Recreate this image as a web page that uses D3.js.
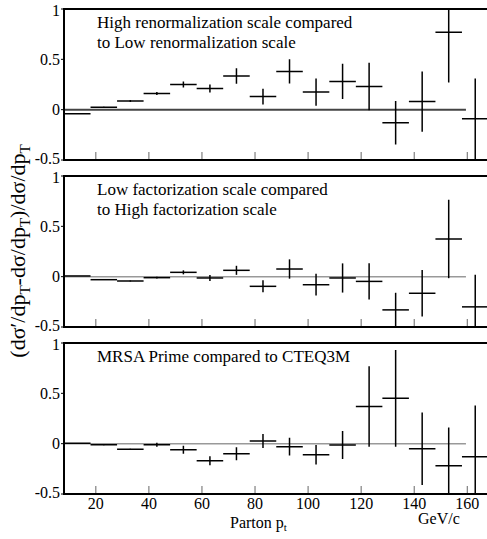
<!DOCTYPE html>
<html>
<head>
<meta charset="utf-8">
<script src="https://cdn.jsdelivr.net/npm/d3@7"></script>
<style>
  body { margin: 0; background: #fff; }
  svg { display: block; }
</style>
</head>
<body>
<svg id="chart" width="487" height="539"></svg>
<script>
// bin centres in GeV/c, each bin is 10 wide
const binCentres = [13, 23, 33, 43, 53, 63, 73, 83, 93, 103, 113, 123, 133, 143, 153, 163];
const binHalfWidth = 5;

// high vs low renormalization scale
const renormValues = [-0.04, 0.025, 0.085, 0.16, 0.25, 0.21, 0.335, 0.13, 0.38, 0.175, 0.28, 0.23, -0.13, 0.08, 0.77, -0.09];
const renormErrors = [0.0, 0.005, 0.01, 0.015, 0.03, 0.04, 0.077, 0.078, 0.12, 0.135, 0.175, 0.235, 0.215, 0.3, 0.5, 0.4];

// low vs high factorization scale
const factValues = [0.007, -0.03, -0.043, -0.01, 0.043, -0.013, 0.063, -0.096, 0.076, -0.08, -0.013, -0.047, -0.33, -0.165, 0.375, -0.3];
const factErrors = [0.0, 0.003, 0.005, 0.008, 0.02, 0.03, 0.045, 0.06, 0.096, 0.108, 0.145, 0.18, 0.17, 0.23, 0.39, 0.32];

// MRSA' vs CTEQ3M
const pdfValues = [0.003, -0.01, -0.055, -0.01, -0.06, -0.17, -0.1, 0.027, -0.03, -0.11, -0.013, 0.37, 0.45, -0.05, -0.22, -0.13];
const pdfErrors = [0.0, 0.005, 0.005, 0.02, 0.04, 0.045, 0.065, 0.07, 0.088, 0.096, 0.14, 0.4, 0.48, 0.36, 0.38, 0.51];

const panelTitles = [
  ["High renormalization scale compared", "to Low renormalization scale"],
  ["Low factorization scale compared", "to High factorization scale"],
  ["MRSA Prime compared to CTEQ3M"]
];

const xTicks = [20, 40, 60, 80, 100, 120, 140, 160];
const yTicks = [-0.5, 0, 0.5, 1];
const xDomain = [8, 168];
const yDomain = [-0.5, 1];
const zeroLineEnd = 159.5;

const serif = "'Liberation Serif', 'Times New Roman', Times, 'DejaVu Serif', 'Noto Serif', serif";

const svg = d3.select("#chart").style("font-family", serif);

const left = 64, right = 488.5;
const panelTops = [9, 176, 343];
const panelHeight = 151;

const x = d3.scaleLinear().domain(xDomain).range([left, right]);

const panels = [
  { values: renormValues, errors: renormErrors, zeroColor: "#444", zeroWidth: 2 },
  { values: factValues, errors: factErrors, zeroColor: "#999", zeroWidth: 1.5 },
  { values: pdfValues, errors: pdfErrors, zeroColor: "#999", zeroWidth: 1.5 }
];

panels.forEach(function(p, i) {
  const top = panelTops[i];
  const y = d3.scaleLinear().domain(yDomain).range([top + panelHeight, top]);
  const g = svg.append("g");

  g.append("clipPath").attr("id", "clip" + i)
    .append("rect")
      .attr("x", left).attr("y", top)
      .attr("width", right - left).attr("height", panelHeight);

  // zero line
  g.append("line")
    .attr("x1", x(xDomain[0])).attr("x2", x(zeroLineEnd))
    .attr("y1", y(0)).attr("y2", y(0))
    .attr("stroke", p.zeroColor).attr("stroke-width", p.zeroWidth);

  // inner ticks along bottom
  g.selectAll(".xtick").data(xTicks).enter().append("line")
    .attr("x1", d => x(d)).attr("x2", d => x(d))
    .attr("y1", y(-0.5)).attr("y2", y(-0.5) - 8)
    .attr("stroke", "#666").attr("stroke-width", 1);

  const rows = binCentres.map(function(c, k) {
    return { c: c, v: p.values[k], e: p.errors[k] };
  });

  const marks = g.append("g").attr("clip-path", "url(#clip" + i + ")");
  marks.selectAll(".hbar").data(rows).enter().append("line")
    .attr("x1", d => x(d.c - binHalfWidth)).attr("x2", d => x(d.c + binHalfWidth))
    .attr("y1", d => y(d.v)).attr("y2", d => y(d.v))
    .attr("stroke", "#000").attr("stroke-width", 1.5);
  marks.selectAll(".vbar").data(rows.filter(d => d.e > 0)).enter().append("line")
    .attr("x1", d => x(d.c)).attr("x2", d => x(d.c))
    .attr("y1", d => y(d.v - d.e)).attr("y2", d => y(d.v + d.e))
    .attr("stroke", "#000").attr("stroke-width", 1.5);

  // frame
  g.append("rect")
    .attr("x", left).attr("y", top)
    .attr("width", right - left).attr("height", panelHeight)
    .attr("fill", "none").attr("stroke", "#000").attr("stroke-width", 2);

  // y axis ticks and labels
  g.selectAll(".ytick").data(yTicks).enter().append("line")
    .attr("x1", left - 3).attr("x2", left)
    .attr("y1", d => y(d)).attr("y2", d => y(d))
    .attr("stroke", "#000");
  g.selectAll(".ylab").data(yTicks).enter().append("text")
    .attr("x", left - 4).attr("y", d => y(d) + (d === -0.5 ? -1 : (d === 1 ? 2 : 0)))
    .attr("dy", "0.33em")
    .attr("text-anchor", "end")
    .style("font-size", "16px")
    .text(d => d);

  // panel title
  g.selectAll(".title").data(panelTitles[i]).enter().append("text")
    .attr("x", 97).attr("y", (d, k) => top + 19 + k * 20)
    .style("font-size", "17px")
    .text(d => d);

  if (i === 2) {
    g.selectAll(".xlab").data(xTicks).enter().append("text")
      .attr("x", d => x(d)).attr("y", y(-0.5) + 10)
      .attr("dy", "0.33em")
      .attr("text-anchor", "middle")
      .style("font-size", "16px")
      .text(d => d);
  }
});

// axis titles
const xt = svg.append("text").attr("x", 230).attr("y", 528).style("font-size", "16px");
xt.append("tspan").text("Parton p");
xt.append("tspan").attr("dy", 3).style("font-size", "11px").text("t");

svg.append("text").attr("x", 418).attr("y", 524).style("font-size", "16px").text("GeV/c");

const yt = svg.append("text")
  .attr("transform", "translate(25,251) rotate(-90)")
  .attr("text-anchor", "middle")
  .style("font-size", "22px");
const parts = [["(dσ′/dp", false], ["T", true], ["-dσ/dp", false], ["T", true], [")/dσ/dp", false], ["T", true]];
parts.forEach(function(pt, k) {
  yt.append("tspan")
    .attr("dy", pt[1] ? 5 : (k === 0 ? 0 : -5))
    .style("font-size", pt[1] ? "15px" : "22px")
    .text(pt[0]);
});
</script>
</body>
</html>
